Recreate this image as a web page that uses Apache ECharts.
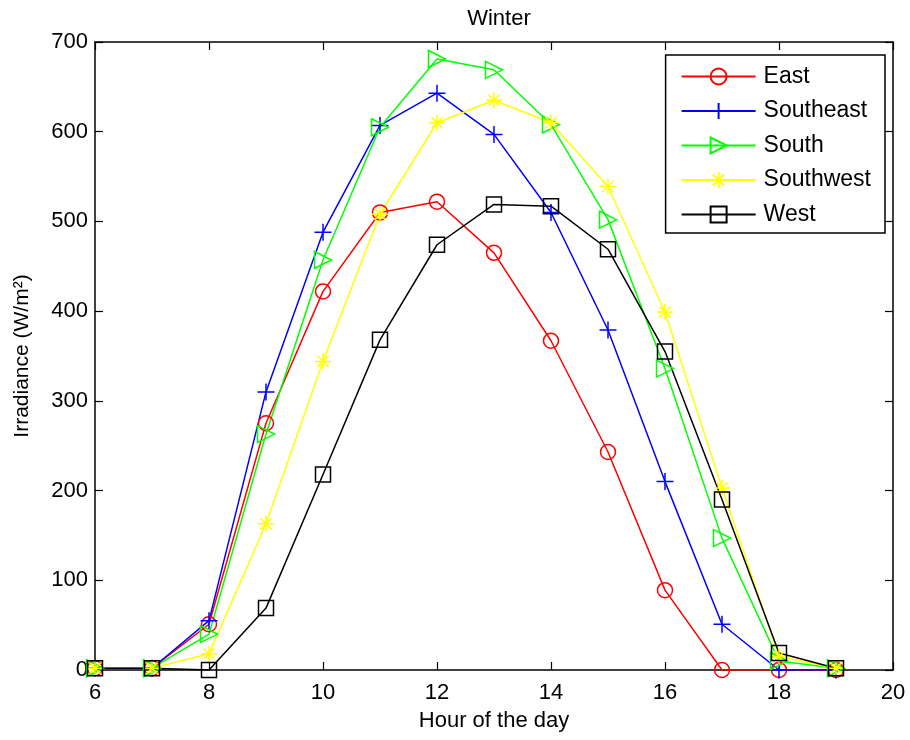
<!DOCTYPE html>
<html>
<head>
<meta charset="utf-8">
<script src="https://cdn.jsdelivr.net/npm/echarts@6/dist/echarts.min.js"></script>
<style>html,body{margin:0;padding:0;background:#fff;}#c{width:910px;height:740px;}</style>
</head>
<body>
<div id="c"></div>
<script>
var hours = [6, 7, 8, 9, 10, 11, 12, 13, 14, 15, 16, 17, 18, 19];
var east      = [2, 2, 51, 275, 422, 510, 522, 465, 367, 243, 89, 0, 0, 0];
var southeast = [2, 2, 55, 310, 488, 607, 643, 597, 510, 379, 210, 51, 0, 0];
var south     = [2, 2, 40, 263, 457, 605, 681, 669, 608, 502, 336, 147, 10, 2];
var southwest = [2, 2, 18, 163, 344, 508, 610, 635, 610, 539, 399, 203, 15, 2];
var west      = [2, 2, 0, 69, 218, 368, 474, 519, 517, 469, 355, 190, 19, 2];
var seriesNames = ['East', 'Southeast', 'South', 'Southwest', 'West'];
var xTicks = [6, 8, 10, 12, 14, 16, 18, 20];
var yTicks = [0, 100, 200, 300, 400, 500, 600, 700];

var FONT = '"Liberation Sans", Arial, sans-serif';
var colors = ['#ff0000', '#0000ff', '#00ff00', '#ffff00', '#000000'];
var symbols = [
  'circle',
  'path://M0,-1 L0,1 M-1,0 L1,0',
  'path://M0,0 L2,1 L0,2 Z',
  'path://M0,-1 L0,1 M-1,0 L1,0 M-0.7,-0.7 L0.7,0.7 M-0.7,0.7 L0.7,-0.7',
  'rect'
];
var sizes = [15, 17, 17, 16, 15];
var datas = [east, southeast, south, southwest, west];

var series = datas.map(function (d, i) {
  return {
    name: seriesNames[i],
    type: 'line',
    data: hours.map(function (h, k) { return [h, d[k]]; }),
    symbol: symbols[i],
    symbolSize: sizes[i],
    showSymbol: true,
    lineStyle: { color: colors[i], width: 1.5 },
    itemStyle: { color: 'rgba(0,0,0,0)', borderColor: colors[i], borderWidth: 1.5 },
    emphasis: { disabled: true },
    animation: false,
    xAxisIndex: 0, yAxisIndex: 0
  };
});

var chart = echarts.init(document.getElementById('c'), null, { renderer: 'canvas' });
var axisCommon = {
  axisLine: { show: true, onZero: false, lineStyle: { color: '#000', width: 1.5 } },
  axisTick: { show: true, inside: true, length: 8, lineStyle: { color: '#000', width: 1.2 } },
  splitLine: { show: false }
};
chart.setOption({
  backgroundColor: '#fff',
  animation: false,
  title: {
    text: 'Winter', left: 494, top: 3, textAlign: 'center',
    textStyle: { fontFamily: FONT, fontWeight: 'normal', fontSize: 22, color: '#000' }
  },
  legend: {
    data: seriesNames,
    orient: 'vertical',
    right: 25, top: 55,
    backgroundColor: '#fff',
    borderColor: '#000', borderWidth: 1.5, borderRadius: 0,
    padding: [10, 14, 7, 15],
    itemWidth: 74, itemHeight: 20, itemGap: 11.5,
    textStyle: { fontFamily: FONT, fontSize: 23, color: '#000', padding: [0, 0, 0, 3] }
  },
  grid: { left: 95, right: 17, top: 42, bottom: 70, containLabel: false },
  xAxis: [
    Object.assign({
      type: 'value', min: 6, max: 20, interval: 2, position: 'bottom',
      name: 'Hour of the day', nameLocation: 'middle', nameGap: 40,
      nameTextStyle: { fontFamily: FONT, fontSize: 22, color: '#000' },
      axisLabel: { fontFamily: FONT, fontSize: 22, color: '#000', margin: 12 }
    }, axisCommon),
    Object.assign({
      type: 'value', min: 6, max: 20, interval: 2, position: 'top',
      axisLabel: { show: false }
    }, axisCommon)
  ],
  yAxis: [
    Object.assign({
      type: 'value', min: 0, max: 700, interval: 100, position: 'left',
      name: 'Irradiance (W/m\u00B2)', nameLocation: 'middle', nameGap: 62, nameRotate: 90,
      nameTextStyle: { fontFamily: FONT, fontSize: 21, color: '#000' },
      axisLabel: { fontFamily: FONT, fontSize: 22, color: '#000', margin: 7, padding: [4, 0, 0, 0] }
    }, axisCommon),
    Object.assign({
      type: 'value', min: 0, max: 700, interval: 100, position: 'right',
      axisLabel: { show: false }
    }, axisCommon)
  ],
  series: series
});
</script>
</body>
</html>
